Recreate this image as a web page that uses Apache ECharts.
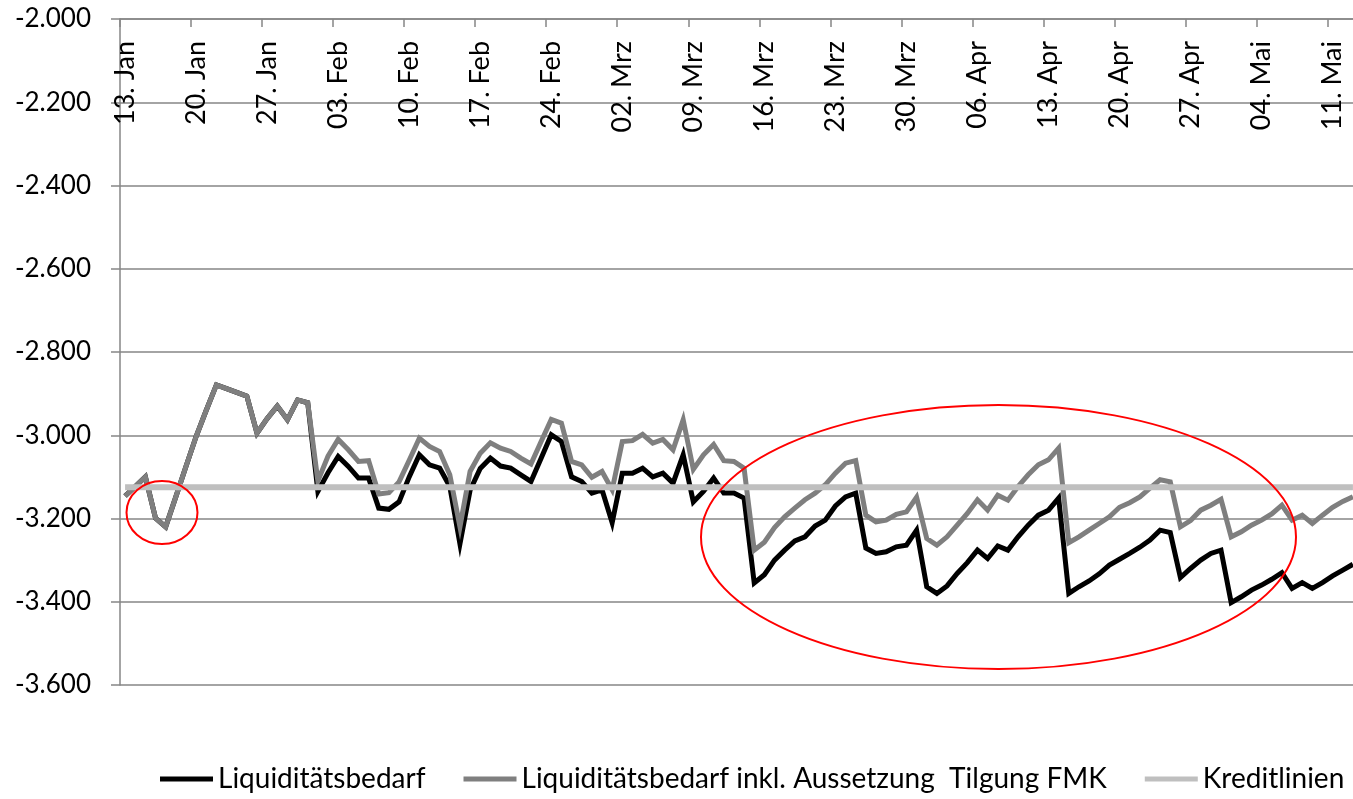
<!DOCTYPE html>
<html><head><meta charset="utf-8">
<script src="https://cdn.jsdelivr.net/npm/echarts@6/dist/echarts.min.js"></script>
<style>html,body{margin:0;padding:0;background:#fff}#c{width:1353px;height:799px}</style>
</head><body><div id="c"></div>
<script>
// Calendar: daily categories from 13. Jan to 13. Mai (2020)
const monthNames = ['Jan', 'Feb', 'Mrz', 'Apr', 'Mai'];
const monthLengths = [31, 29, 31, 30, 31];
const startDay = 13;
const dayCount = 122;
const categories = [];
(function () {
  let m = 0, d = startDay;
  for (let i = 0; i < dayCount; i++) {
    categories.push((d < 10 ? '0' : '') + d + '. ' + monthNames[m]);
    d++;
    if (d > monthLengths[m]) { d = 1; m++; }
  }
})();

const yMin = -3600, yMax = -2000, yStep = 200;

const seriesNames = ['Liquiditätsbedarf', 'Liquiditätsbedarf inkl. Aussetzung  Tilgung FMK', 'Kreditlinien'];

const liquiditaetsbedarf = [
  -3146, -3123, -3100, -3199, -3220, -3148, -3075, -3003, -2940, -2879,
  -2888, -2897, -2906, -2995, -2960, -2930, -2963, -2915, -2922, -3135,
  -3090, -3051, -3075, -3103, -3103, -3175, -3178, -3160, -3100, -3047,
  -3071, -3079, -3123, -3261, -3132, -3080, -3055, -3074, -3079, -3095,
  -3111, -3055, -2999, -3015, -3100, -3111, -3139, -3131, -3210, -3091,
  -3091, -3079, -3100, -3091, -3115, -3047, -3160, -3135, -3103, -3139,
  -3139, -3151, -3355, -3335, -3300, -3276, -3254, -3244, -3218, -3204,
  -3170, -3148, -3139, -3271, -3284, -3280, -3268, -3264, -3228, -3364,
  -3380, -3362, -3332, -3306, -3276, -3296, -3266, -3276, -3244, -3216,
  -3192, -3180, -3151, -3380, -3364, -3350, -3333, -3312, -3298, -3284,
  -3269, -3252, -3228, -3234, -3342, -3320, -3300, -3284, -3276, -3402,
  -3388, -3372, -3360, -3346, -3330, -3368, -3354, -3368, -3354, -3338,
  -3324, -3310
];

const inklAussetzungTilgung = [
  -3146, -3123, -3100, -3199, -3220, -3148, -3075, -3003, -2940, -2879,
  -2888, -2897, -2906, -2995, -2960, -2930, -2963, -2915, -2922, -3110,
  -3050, -3010, -3035, -3063, -3061, -3141, -3138, -3112, -3060, -3007,
  -3027, -3039, -3095, -3220, -3087, -3043, -3018, -3031, -3039, -3055,
  -3069, -3015, -2962, -2971, -3063, -3071, -3101, -3087, -3131, -3015,
  -3013, -2998, -3019, -3010, -3035, -2963, -3082, -3047, -3022, -3061,
  -3063, -3079, -3276, -3257, -3222, -3196, -3175, -3155, -3139, -3119,
  -3091, -3067, -3061, -3192, -3208, -3204, -3190, -3184, -3149, -3248,
  -3264, -3244, -3216, -3188, -3155, -3180, -3144, -3156, -3123, -3095,
  -3071, -3059, -3031, -3258, -3244, -3228, -3212, -3196, -3173, -3162,
  -3148, -3127, -3107, -3112, -3220, -3205, -3180, -3168, -3154, -3244,
  -3232, -3216, -3204, -3189, -3168, -3204, -3192, -3212, -3192, -3173,
  -3159, -3148
];

const kreditlinien = [
  -3125, -3125, -3125, -3125, -3125, -3125, -3125, -3125, -3125, -3125,
  -3125, -3125, -3125, -3125, -3125, -3125, -3125, -3125, -3125, -3125,
  -3125, -3125, -3125, -3125, -3125, -3125, -3125, -3125, -3125, -3125,
  -3125, -3125, -3125, -3125, -3125, -3125, -3125, -3125, -3125, -3125,
  -3125, -3125, -3125, -3125, -3125, -3125, -3125, -3125, -3125, -3125,
  -3125, -3125, -3125, -3125, -3125, -3125, -3125, -3125, -3125, -3125,
  -3125, -3125, -3125, -3125, -3125, -3125, -3125, -3125, -3125, -3125,
  -3125, -3125, -3125, -3125, -3125, -3125, -3125, -3125, -3125, -3125,
  -3125, -3125, -3125, -3125, -3125, -3125, -3125, -3125, -3125, -3125,
  -3125, -3125, -3125, -3125, -3125, -3125, -3125, -3125, -3125, -3125,
  -3125, -3125, -3125, -3125, -3125, -3125, -3125, -3125, -3125, -3125,
  -3125, -3125, -3125, -3125, -3125, -3125, -3125, -3125, -3125, -3125,
  -3125, -3125
];

const FONT = 'Lato, "Open Sans", sans-serif';
const AXIS_GRAY = '#868686';

function fmtDE(v) {
  const s = Math.abs(v).toFixed(0).replace(/\B(?=(\d{3})+(?!\d))/g, '.');
  return (v < 0 ? '-' : '') + s;
}

const chart = echarts.init(document.getElementById('c'), null, { renderer: 'canvas' });
chart.setOption({
  animation: false,
  backgroundColor: '#ffffff',
  grid: { left: 120, top: 19, right: -5, bottom: 114, containLabel: false, outerBoundsMode: 'none' },
  xAxis: {
    type: 'category',
    data: categories,
    position: 'top',
    boundaryGap: true,
    axisLine: { show: true, lineStyle: { color: AXIS_GRAY, width: 1.5 } },
    axisTick: { show: true, inside: true, length: 8, interval: 6, alignWithLabel: false, lineStyle: { color: AXIS_GRAY, width: 1.5 } },
    axisLabel: { show: true, inside: true, rotate: -90, margin: 22, interval: 6, color: '#000', fontFamily: FONT, fontSize: 27, padding: [8, 0, 0, 0] },
    splitLine: { show: false }
  },
  yAxis: {
    type: 'value',
    min: yMin, max: yMax, interval: yStep,
    axisLine: { show: true, lineStyle: { color: AXIS_GRAY, width: 1.5 } },
    axisTick: { show: true, inside: false, length: 9, lineStyle: { color: AXIS_GRAY, width: 1.5 } },
    axisLabel: { show: true, margin: 29, color: '#000', fontFamily: FONT, fontSize: 26, formatter: fmtDE },
    splitLine: { show: true, lineStyle: { color: AXIS_GRAY, width: 1.5 } }
  },
  legend: {
    show: true,
    top: 765,
    left: 160,
    width: 1193,
    padding: 0,
    icon: 'rect',
    itemWidth: 53,
    itemHeight: 5,
    itemGap: 38,
    textStyle: { fontFamily: FONT, fontSize: 28, color: '#000' },
    data: seriesNames
  },
  series: [
    { name: seriesNames[0], type: 'line', data: liquiditaetsbedarf, symbol: 'none', showSymbol: false,
      lineStyle: { color: '#000000', width: 5, join: 'miter' }, itemStyle: { color: '#000000' }, z: 2 },
    { name: seriesNames[1], type: 'line', data: inklAussetzungTilgung, symbol: 'none', showSymbol: false,
      lineStyle: { color: '#7f7f7f', width: 5, join: 'miter' }, itemStyle: { color: '#7f7f7f' }, z: 3 },
    { name: seriesNames[2], type: 'line', data: kreditlinien, symbol: 'none', showSymbol: false,
      lineStyle: { color: '#bfbfbf', width: 6 }, itemStyle: { color: '#bfbfbf' }, z: 4 }
  ],
  graphic: [
    { type: 'ellipse', z: 100, silent: true,
      shape: { cx: 162, cy: 512.5, rx: 35.5, ry: 31.5 },
      style: { fill: null, stroke: '#ff0000', lineWidth: 2 } },
    { type: 'ellipse', z: 100, silent: true,
      shape: { cx: 998.5, cy: 537, rx: 297.5, ry: 132 },
      style: { fill: null, stroke: '#ff0000', lineWidth: 2 } }
  ]
});
</script>
</body></html>
